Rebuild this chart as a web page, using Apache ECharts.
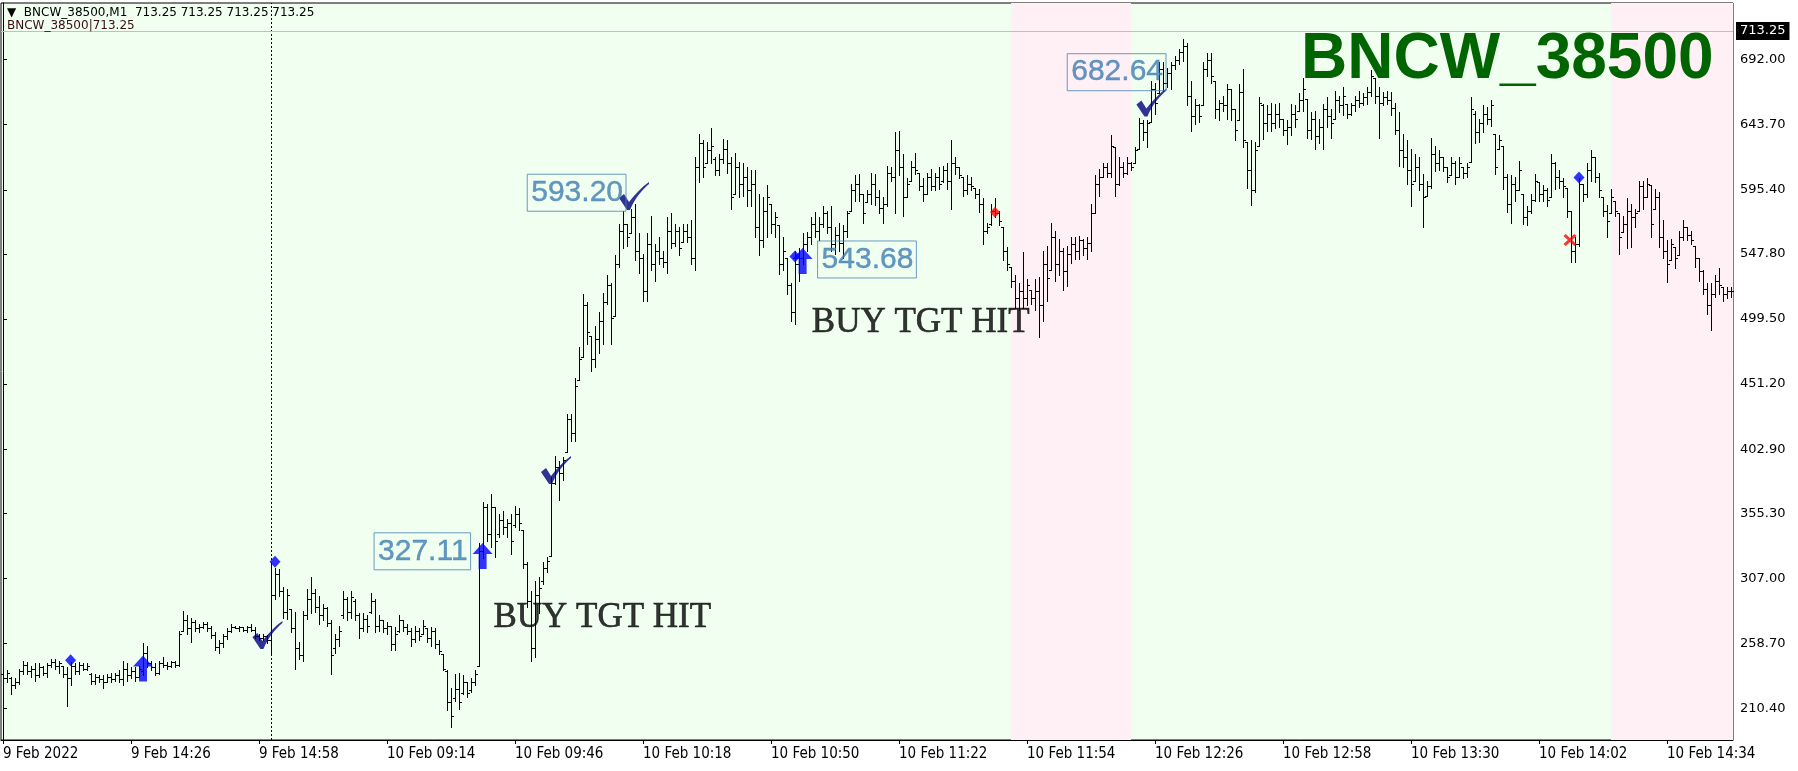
<!DOCTYPE html>
<html>
<head>
<meta charset="utf-8">
<script src="https://cdn.jsdelivr.net/npm/echarts@6.0.0/dist/echarts.min.js"></script>
<style>
html,body{margin:0;padding:0;background:#fff;}
#chart{width:1798px;height:771px;}
</style>
</head>
<body>
<div id="chart"></div>
<script>
// ---- data (bar index 0 = 9 Feb 13:54, one bar per minute) ----
const tickLabels = ['9 Feb 2022','9 Feb 14:26','9 Feb 14:58','10 Feb 09:14','10 Feb 09:46','10 Feb 10:18','10 Feb 10:50','10 Feb 11:22','10 Feb 11:54','10 Feb 12:26','10 Feb 12:58','10 Feb 13:30','10 Feb 14:02','10 Feb 14:34'];
const tickBars = [0,32,64,96,128,160,192,224,256,288,320,352,384,416];
const priceTicks = [210.40,258.70,307.00,355.30,402.90,451.20,499.50,547.80,595.40,643.70,692.00];

const highs = [
241,239,234,233,240,246,245,242,244,244,
242,244,247,247,246,242,241,245,244,245,
244,244,237,236,235,235,236,237,237,239,
246,244,241,241,242,259,257,246,244,246,
249,245,246,246,268,283,280,278,276,273,
275,275,272,267,261,266,270,273,272,272,
271,272,273,271,266,266,265,319,315,314,
301,299,284,282,260,283,299,308,299,294,
288,286,276,266,272,298,293,298,292,281,
281,280,296,292,280,276,275,272,271,280,
276,273,270,272,270,276,270,271,270,261,
251,239,226,236,237,235,230,233,239,333,
364,362,370,360,355,357,351,355,361,359,
343,319,298,305,308,319,323,382,398,394,
397,429,429,456,479,518,512,487,494,505,
519,532,526,547,570,580,570,581,585,563,
548,563,576,555,560,550,575,578,570,568,
570,570,573,620,637,632,631,641,620,622,
633,632,620,623,616,615,612,610,610,592,
590,599,585,579,569,560,545,526,550,552,
563,564,575,579,575,583,580,583,568,571,
569,580,600,606,607,592,595,608,607,595,
590,613,612,638,639,622,604,617,623,608,
604,608,611,608,612,613,615,632,620,612,
605,606,605,597,596,589,571,585,589,580,
568,553,538,532,526,549,529,521,529,531,
550,554,571,565,559,552,554,560,560,561,
559,560,585,606,611,615,615,636,627,620,
616,620,616,627,649,647,647,676,675,690,
690,686,690,695,700,707,704,676,663,659,
690,697,697,676,662,665,674,670,655,674,
685,631,632,631,664,659,658,660,659,660,
648,647,659,658,667,678,663,653,654,648,
659,664,655,669,665,672,659,660,665,669,
667,672,684,678,672,668,669,668,660,653,
637,632,626,622,620,607,602,634,628,625,
620,612,620,617,620,612,615,664,654,648,
658,657,662,637,636,628,607,606,605,617,
592,583,592,607,601,599,597,622,616,610,
604,597,580,560,604,600,615,625,620,608,
590,584,596,587,578,576,589,585,581,602,
602,604,599,596,594,573,558,559,553,565,
573,568,565,554,545,536,526,526,532,537,
523,523,523];

const lows = [
231,230,221,226,229,236,236,234,231,234,
235,234,241,240,237,234,212,228,236,236,
239,239,229,229,230,226,230,230,231,230,
228,231,233,231,234,235,241,239,235,236,
241,240,241,241,242,268,266,260,268,267,
270,268,263,254,252,256,262,267,270,268,
268,267,268,263,261,261,259,252,292,294,
278,277,267,240,247,246,277,281,282,273,
276,272,236,252,257,278,276,278,276,263,
268,267,281,267,268,267,266,254,254,267,
268,266,257,260,261,266,260,257,255,251,
239,209,197,216,210,221,219,223,228,242,
322,335,330,323,338,340,338,325,345,343,
315,286,246,249,281,303,312,324,377,365,
380,401,409,409,454,471,481,461,464,474,
481,511,481,502,538,552,554,563,543,534,
513,513,536,528,540,538,534,552,554,547,
557,557,540,536,601,605,615,615,606,606,
615,608,581,592,590,591,583,583,560,547,
553,560,563,560,533,536,518,498,496,528,
540,550,555,560,558,568,563,550,548,550,
545,560,580,587,587,571,586,585,584,578,
571,583,602,578,606,576,590,602,607,595,
587,592,595,595,596,601,596,581,607,604,
591,592,595,589,579,555,563,569,575,569,
543,536,523,508,506,508,510,511,506,486,
498,513,536,528,532,521,524,541,544,544,
547,544,550,578,591,605,605,605,591,599,
605,607,610,615,626,632,627,646,652,667,
669,672,670,685,689,691,658,639,644,646,
658,680,675,649,647,654,648,647,632,647,
627,597,584,594,628,633,639,639,641,642,
636,629,636,642,654,654,634,633,626,630,
626,642,634,648,653,651,649,651,654,657,
658,659,665,660,634,658,659,651,637,613,
612,600,583,602,595,568,591,597,609,610,
609,601,606,600,605,604,605,616,630,631,
638,644,643,607,626,596,579,571,587,595,
570,569,578,587,587,587,583,590,596,597,
590,575,542,542,554,587,590,602,601,590,
576,560,578,576,548,564,552,553,568,580,
581,590,560,581,553,545,527,543,537,547,
558,558,555,538,528,518,503,491,516,518,
513,515,516];

const opens = [
236,233,233,228,230,238,243,238,240,235,
241,237,243,245,242,242,236,233,242,238,
243,240,236,231,234,232,230,234,232,235,
232,240,235,238,234,238,252,244,241,237,
244,243,242,245,243,268,276,270,275,270,
271,273,270,265,256,259,264,268,271,270,
271,269,271,269,264,263,264,261,295,310,
298,282,284,270,255,250,280,292,296,286,
280,285,274,255,262,280,292,282,290,280,
270,277,282,290,272,276,270,272,258,268,
276,271,268,262,268,266,270,263,268,258,
251,238,215,218,225,222,230,224,230,242,
327,360,340,360,340,350,345,348,347,355,
343,318,290,255,295,305,315,324,378,390,
385,401,425,415,454,471,510,487,470,485,
498,512,525,502,540,565,570,563,575,550,
545,520,555,540,550,545,542,565,556,565,
557,565,560,545,612,630,615,625,618,610,
618,626,615,592,612,600,605,595,600,568,
558,580,585,570,569,540,545,525,505,540,
545,555,560,570,565,570,578,568,555,562,
556,565,580,595,600,592,586,592,600,590,
582,585,608,605,625,612,590,602,612,608,
598,592,605,598,605,602,610,602,615,612,
605,595,600,597,592,585,565,570,580,578,
568,550,538,528,515,520,515,521,515,520,
510,540,536,560,540,550,535,548,555,550,
558,552,556,578,600,605,612,608,627,600,
612,608,615,615,626,645,638,646,670,667,
685,675,682,688,692,698,702,665,650,658,
658,685,692,676,655,660,658,670,655,647,
668,631,610,595,628,658,645,652,645,652,
648,640,642,652,654,662,663,640,648,635,
642,655,650,648,662,658,659,652,658,662,
660,664,668,678,665,660,664,662,656,640,
625,620,610,602,612,600,591,598,622,615,
620,612,606,615,605,612,608,616,652,638,
645,652,648,637,626,628,605,585,600,595,
592,575,580,588,601,592,595,590,615,605,
602,597,580,550,555,600,592,610,620,605,
590,580,578,587,578,564,570,580,575,580,
598,590,599,581,590,560,550,543,553,547,
560,568,562,554,545,535,522,510,518,528,
523,518,520];

const closes = [
233,237,228,230,238,243,238,240,235,241,
237,243,245,242,244,236,233,242,238,243,
240,242,231,234,232,230,234,232,235,232,
240,235,238,234,240,252,244,241,237,244,
243,242,245,243,266,276,270,275,270,271,
273,270,265,256,259,264,268,271,270,271,
269,271,269,264,263,264,261,295,310,298,
282,295,270,255,250,280,292,296,286,280,
285,274,250,262,268,292,282,293,280,270,
277,272,290,272,276,270,272,258,266,276,
271,268,262,268,264,272,263,268,258,253,
240,215,205,225,215,230,222,230,236,327,
360,340,360,335,350,345,348,335,355,348,
318,290,255,295,300,315,320,378,390,385,
395,425,415,450,470,510,490,470,485,498,
512,525,500,540,565,570,560,575,550,545,
520,555,540,550,545,542,565,556,565,552,
565,560,545,612,630,612,625,628,610,618,
626,615,590,612,600,605,595,600,568,558,
580,590,570,575,540,550,525,505,540,545,
555,560,570,565,570,578,568,555,562,556,
565,578,595,600,592,578,592,600,590,582,
585,608,605,625,612,590,600,612,610,598,
592,605,598,605,600,610,602,615,612,606,
595,600,598,592,585,565,568,580,578,572,
550,540,528,515,520,515,525,515,520,510,
540,530,560,540,550,535,548,555,550,558,
552,556,578,600,605,612,608,628,600,612,
608,615,612,625,645,638,645,670,660,685,
675,682,688,692,698,702,665,650,658,650,
685,692,680,655,660,658,670,655,640,668,
632,610,595,625,660,645,652,645,652,648,
640,642,652,648,662,670,640,648,635,642,
655,650,645,662,658,665,652,658,662,660,
664,668,680,665,660,664,662,656,640,625,
620,610,600,612,600,590,598,622,615,620,
612,605,615,605,615,608,612,655,638,645,
652,648,658,612,632,605,585,600,595,610,
575,580,588,602,592,595,588,615,605,602,
598,580,550,555,600,592,610,620,605,595,
580,572,590,580,560,570,580,575,578,598,
590,600,570,590,560,550,540,555,545,560,
568,562,558,545,535,522,510,518,528,525,
518,520,520];

// signal objects: [bar index, price]
const buyArrows   = [[35, 240.1], [119.9, 323.6], [199.9, 542.5]];
const blueDiamonds = [[16.9, 246.3], [68, 319.4], [198, 545.8], [394, 604.6]];
const redDiamonds  = [[248, 578.7]];
const redCrosses   = [[391.75, 558.1]];
const checkMarks   = [[66.1, 265.0], [138.25, 387.5], [157.75, 590.8], [287.1, 660.1]];
const priceTagBars   = [119.9, 157.5, 199.9, 293];
const priceTagValues = [327.11, 593.20, 543.68, 682.64];
const tgtTextBars   = [122.6, 202.2];
const tgtTextPrices = [278.0, 496.6];
const shadeZones = [[252, 282], [402, 432.5]];
const cursorBar = 67;
const lastPrice = 713.25;
const symbolName = 'BNCW_38500';

// ---- chart ----
const nBars = highs.length;
const ohlc = highs.map((h, i) => [i, opens[i], h, lows[i], closes[i]]);

const ARROW = 'path://M10,0 L20,11 L14,11 L14,26 L6,26 L6,11 L0,11 Z';
const CHECK = 'path://M0,16 L5,12 L10,20 C16,12 23,5 30,0 L30,2 C23,8 16,16 11,28 L8,28 Z';
const CROSS = 'path://M0,2 L2,0 L6,4 L10,0 L12,2 L8,6 L12,10 L10,12 L6,8 L2,12 L0,10 L4,6 Z';

const markers = [];
buyArrows.forEach(p => markers.push({value: p, symbol: ARROW, symbolSize: [20, 26], itemStyle: {color: '#0000FF'}}));
blueDiamonds.forEach(p => markers.push({value: p, symbol: 'diamond', symbolSize: [11, 12], itemStyle: {color: '#0000FF'}}));
redDiamonds.forEach(p => markers.push({value: p, symbol: 'diamond', symbolSize: [10, 11], itemStyle: {color: '#FF0000'}}));
redCrosses.forEach(p => markers.push({value: p, symbol: CROSS, symbolSize: [13, 12], itemStyle: {color: '#FF0000'}}));
checkMarks.forEach(p => markers.push({value: p, symbol: CHECK, symbolSize: [30, 28], itemStyle: {color: '#000080'}}));

const tagSides = ['left', 'left', 'right', 'left'];
const tagDist = [12, 7, 15, 9];
const tags = priceTagValues.map((v, k) => ({
  value: [priceTagBars[k], v],
  label: {position: tagSides[k], distance: tagDist[k]}
}));

const tgtTexts = tgtTextBars.map((b, k) => ({value: [b, tgtTextPrices[k]]}));

function renderBar(params, api) {
  const i = api.value(0);
  const pO = api.coord([i, api.value(1)]);
  const pH = api.coord([i, api.value(2)]);
  const pL = api.coord([i, api.value(3)]);
  const pC = api.coord([i, api.value(4)]);
  const x = Math.round(pH[0]);
  const yH = Math.round(pH[1]), yL = Math.round(pL[1]);
  const yO = Math.round(pO[1]), yC = Math.round(pC[1]);
  const st = {fill: '#000'};
  return {type: 'group', silent: true, children: [
    {type: 'rect', shape: {x: x, y: yH, width: 1, height: Math.max(1, yL - yH + 1)}, style: st},
    {type: 'rect', shape: {x: x - 2, y: yO, width: 2, height: 1}, style: st},
    {type: 'rect', shape: {x: x + 1, y: yC, width: 2, height: 1}, style: st}
  ]};
}

const chart = echarts.init(document.getElementById('chart'), null, {renderer: 'canvas'});
chart.setOption({
  animation: false,
  backgroundColor: '#FFFFFF',
  grid: {left: 1, top: 3, width: 1732, height: 737, show: true,
         backgroundColor: '#F0FFF0', borderColor: '#000', borderWidth: 1},
  xAxis: {
    type: 'value', min: -0.5, max: nBars - 0.5,
    splitLine: {show: false},
    axisLine: {show: true, onZero: false, lineStyle: {color: '#000', width: 1}},
    axisTick: {show: true, length: 4, customValues: tickBars, lineStyle: {color: '#000'}},
    axisLabel: {
      customValues: tickBars, align: 'left', margin: 7,
      color: '#000', fontFamily: "'Liberation Sans Narrow','DejaVu Sans Condensed','Liberation Sans'", fontSize: 15,
      formatter: v => tickLabels[tickBars.indexOf(Math.round(v))] || ''
    }
  },
  yAxis: {
    type: 'value', position: 'right', min: 187.1, max: 734.0,
    splitLine: {show: false},
    axisLine: {show: true, lineStyle: {color: '#000', width: 1}},
    axisTick: {show: true, length: 4, customValues: priceTicks, lineStyle: {color: '#000'}},
    axisLabel: {
      customValues: priceTicks, margin: 7, color: '#000',
      fontFamily: 'DejaVu Sans', fontSize: 13,
      formatter: v => v.toFixed(2)
    }
  },
  series: [
    {
      type: 'line', data: [], z: 1, silent: true,
      markArea: {silent: true, itemStyle: {color: '#FFF0F5'},
        data: shadeZones.map(z => [{xAxis: z[0]}, {xAxis: z[1]}])},
      markLine: {silent: true, symbol: 'none', animation: false,
        data: [
          {xAxis: cursorBar, lineStyle: {color: '#000', type: [2, 2], width: 1}, label: {show: false}},
          {yAxis: lastPrice, lineStyle: {color: '#C0C0C0', type: 'solid', width: 1},
           label: {show: true, position: 'end', distance: 3, formatter: lastPrice.toFixed(2),
                   backgroundColor: '#000', color: '#fff', padding: [3, 4, 2, 4],
                   fontFamily: 'DejaVu Sans', fontSize: 13}}
        ]}
    },
    {type: 'custom', data: ohlc, renderItem: renderBar, z: 5, encode: {x: 0, y: [1, 2, 3, 4]}, silent: true},
    {type: 'scatter', data: markers, z: 8, silent: true},
    {
      type: 'scatter', data: tags, z: 9, silent: true, symbolSize: 0,
      label: {show: true, formatter: p => p.value[1].toFixed(2), color: '#3F7DB3',
        fontFamily: 'Liberation Sans', fontSize: 30, lineHeight: 30,
        textBorderColor: '#3F7DB3', textBorderWidth: 0.4,
        borderColor: '#4682B4', borderWidth: 1, padding: [4, 3, 3, 4]}
    },
    {
      type: 'scatter', data: tgtTexts, z: 9, silent: true, symbolSize: 0,
      label: {show: true, position: 'right', distance: 0,
        formatter: 'BUY TGT HIT',
        fontFamily: 'Liberation Serif', fontSize: 35, color: '#000',
        textBorderColor: '#000', textBorderWidth: 0.6}
    }
  ],
  graphic: [
    {type: 'text', x: 7, y: 13, z: 20, silent: true,
     style: {text: '\u25BC  ' + symbolName + ',M1  ' + [lastPrice, lastPrice, lastPrice, lastPrice].map(v => v.toFixed(2)).join(' '),
             fill: '#000', font: '12px "DejaVu Sans"', verticalAlign: 'middle'}},
    {type: 'text', x: 7, y: 25.5, z: 20, silent: true,
     style: {text: symbolName + '|' + lastPrice.toFixed(2), fill: '#3a1010', font: '12px "DejaVu Sans"', verticalAlign: 'middle'}},
    {type: 'text', x: 1301, y: 60, z: 20, silent: true,
     style: {text: symbolName, fill: '#006400', font: 'bold 64px "Liberation Sans"', verticalAlign: 'middle'}}
  ]
});
</script>
</body>
</html>
